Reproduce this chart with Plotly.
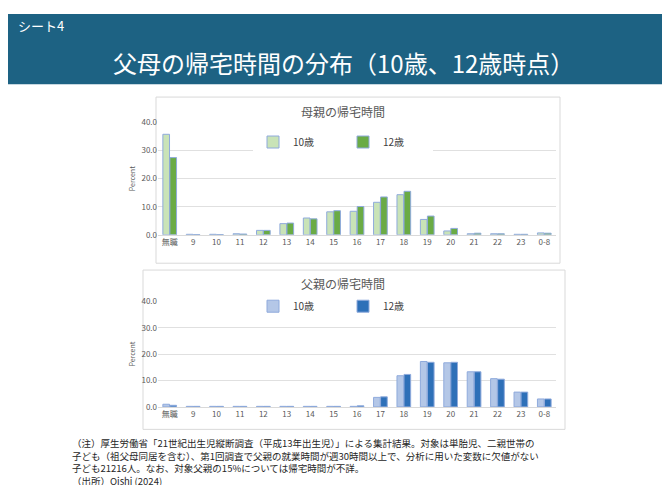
import plotly.graph_objects as go

cats = ["無職","9","10","11","12","13","14","15","16","17","18","19","20","21","22","23","0-8"]
mother_10 = [35.8,0.2,0.2,0.4,1.6,4.0,6.0,8.2,8.4,11.6,14.3,5.5,1.4,0.4,0.4,0.2,0.7]
mother_12 = [27.5,0.1,0.1,0.3,1.6,4.2,5.7,8.6,10.1,13.5,15.5,6.7,2.3,0.6,0.4,0.2,0.6]
father_10 = [1.0,0.2,0.2,0.2,0.2,0.2,0.2,0.2,0.2,3.6,11.8,17.2,16.7,13.3,10.7,5.6,3.0]
father_12 = [0.6,0.2,0.2,0.2,0.2,0.2,0.2,0.2,0.4,3.8,12.3,16.9,16.9,13.3,10.5,5.6,3.0]
y_ticks = [0,10,20,30,40]
notes = [
    "（注）厚生労働省「21世紀出生児縦断調査（平成13年出生児）」による集計結果。対象は単胎児、二親世帯の",
    "子ども（祖父母同居を含む）、第1回調査で父親の就業時間が週30時間以上で、分析に用いた変数に欠値がない",
    "子ども21216人。なお、対象父親の15%については帰宅時間が不詳。",
    "（出所）Oishi (2024)",
]

W, H = 670, 485
px = lambda x: x / W
py = lambda y: 1 - y / H
FONT = "Noto Sans CJK JP"

fig = go.Figure()
line = dict(color="#8faadc", width=1)
fig.add_bar(x=cats, y=mother_10, name="10歳", marker=dict(color="#c9e3b7", line=line), xaxis="x", yaxis="y", legend="legend")
fig.add_bar(x=cats, y=mother_12, name="12歳", marker=dict(color="#6aab45", line=line), xaxis="x", yaxis="y", legend="legend")
fig.add_bar(x=cats, y=father_10, name="10歳", marker=dict(color="#b4c7e7", line=line), xaxis="x2", yaxis="y2", legend="legend2")
fig.add_bar(x=cats, y=father_12, name="12歳", marker=dict(color="#2e70b8", line=line), xaxis="x2", yaxis="y2", legend="legend2")

ax = dict(tickfont=dict(size=8, color="#595959"), showgrid=False, showline=True, linecolor="#d9d9d9", ticks="")
ay = dict(range=[0, 40], tickvals=y_ticks, tickformat=".1f", tickfont=dict(size=8, color="#595959"),
          showgrid=True, gridcolor="#e0e0e0", zeroline=False,
          title=dict(text="Percent", font=dict(size=7, color="#595959"), standoff=4))

leg = dict(orientation="h", x=0.5, xanchor="center", yanchor="middle",
           font=dict(size=10, color="#404040"), bgcolor="white", itemwidth=30,
           traceorder="normal", entrywidth=45, entrywidthmode="pixels")

annotations = [
    dict(text="シート4", x=px(8), y=py(12), xref="paper", yref="paper", xanchor="left", yanchor="middle", showarrow=False, font=dict(size=13, color="white")),
    dict(text="父母の帰宅時間の分布（10歳、12歳時点）", x=0.5, y=py(50), xref="paper", yref="paper", xanchor="center", yanchor="middle", showarrow=False, font=dict(size=24, color="white")),
    dict(text="母親の帰宅時間", x=0.5, y=py(100), xref="paper", yref="paper", xanchor="center", yanchor="middle", showarrow=False, font=dict(size=12, color="#595959")),
    dict(text="父親の帰宅時間", x=0.5, y=py(276), xref="paper", yref="paper", xanchor="center", yanchor="middle", showarrow=False, font=dict(size=12, color="#595959")),
]
for i, t in enumerate(notes):
    annotations.append(dict(text=t, x=px(62), y=py(439 + i * 13), xref="paper", yref="paper", xanchor="left", yanchor="middle",
                            showarrow=False, font=dict(size=9.5, color="#262626")))

fig.update_layout(
    width=W, height=H, margin=dict(l=0, r=0, t=0, b=0),
    paper_bgcolor="white", plot_bgcolor="rgba(0,0,0,0)",
    font=dict(family=FONT), barmode="group", bargap=0.4, bargroupgap=0.05,
    xaxis=dict(domain=[px(150), px(548)], anchor="y", **ax),
    yaxis=dict(domain=[py(226), py(111)], anchor="x", **ay),
    xaxis2=dict(domain=[px(150), px(548)], anchor="y2", **ax),
    yaxis2=dict(domain=[py(402), py(294)], anchor="x2", **ay),
    legend=dict(y=py(131), **leg),
    legend2=dict(y=py(299), **leg),
    shapes=[
        dict(type="rect", xref="paper", yref="paper", x0=0, x1=1, y0=py(72), y1=1, fillcolor="#1d6283", line=dict(width=0), layer="below"),
        dict(type="rect", xref="paper", yref="paper", x0=px(148), x1=px(552), y0=py(255), y1=py(85), line=dict(color="#d9d9d9", width=1), layer="below"),
        dict(type="rect", xref="paper", yref="paper", x0=px(135), x1=px(557), y0=py(425), y1=py(262), line=dict(color="#d9d9d9", width=1), layer="below"),
    ],
    annotations=annotations,
)
fig.write_html("out.html")
